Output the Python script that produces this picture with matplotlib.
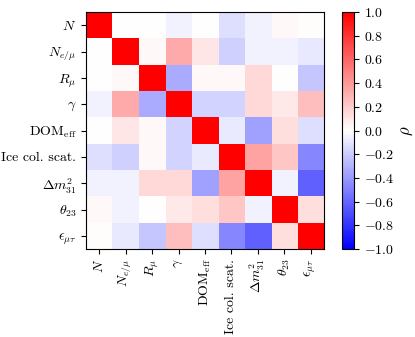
import numpy as np
import matplotlib
matplotlib.use("Agg")
import matplotlib.pyplot as plt

plt.rcParams['font.family'] = 'serif'
plt.rcParams['font.serif'] = ['cmr10']
plt.rcParams['mathtext.fontset'] = 'cm'
plt.rcParams['axes.formatter.use_mathtext'] = True
plt.rcParams['font.size'] = 10

labels = [r'$N$', r'$N_{e/\mu}$', r'$R_\mu$', r'$\gamma$', r'$\mathrm{DOM}_\mathrm{eff}$',
          'Ice col. scat.', r'$\Delta m^2_{31}$', r'$\theta_{23}$', r'$\epsilon_{\mu\tau}$']

# correlation rows (symmetric)
r_N     = [1.00, 0.00, 0.00, -0.05, 0.00, -0.13, -0.05, 0.03, 0.01]
r_Nemu  = [0.00, 1.00, 0.03, 0.33, 0.10, -0.18, -0.05, -0.05, -0.09]
r_Rmu   = [0.00, 0.03, 1.00, -0.33, 0.03, 0.03, 0.15, 0.00, -0.22]
r_gamma = [-0.05, 0.33, -0.33, 1.00, -0.17, -0.17, 0.15, 0.09, 0.25]
r_dom   = [0.00, 0.10, 0.03, -0.17, 1.00, -0.08, -0.37, 0.13, -0.13]
r_ice   = [-0.13, -0.18, 0.03, -0.17, -0.08, 1.00, 0.36, 0.22, -0.47]
r_dm    = [-0.05, -0.05, 0.15, 0.15, -0.37, 0.36, 1.00, -0.05, -0.62]
r_theta = [0.03, -0.05, 0.00, 0.09, 0.13, 0.22, -0.05, 1.00, 0.13]
r_eps   = [0.01, -0.09, -0.22, 0.25, -0.13, -0.47, -0.62, 0.13, 1.00]

corr = np.array([r_N, r_Nemu, r_Rmu, r_gamma, r_dom, r_ice, r_dm, r_theta, r_eps])

fig = plt.figure(figsize=(4.15, 3.37), dpi=100)
ax = fig.add_axes([86/415, 1-249/337, 238/415, 237/337])
cax = fig.add_axes([342/415, 1-249/337, 12/415, 237/337])

im = ax.imshow(corr, cmap='bwr', vmin=-1, vmax=1, aspect='auto')
ax.set_xticks(range(len(labels)))
ax.set_yticks(range(len(labels)))
ax.set_xticklabels(labels, rotation=90)
ax.set_yticklabels(labels)

cb = fig.colorbar(im, cax=cax)
cb.set_ticks(np.arange(-1, 1.01, 0.2))
cb.set_ticklabels([r'$%.1f$' % t if abs(t) > 1e-9 else r'$0.0$' for t in np.arange(-1, 1.01, 0.2)])
cb.set_label(r'$\rho$', fontsize=12)
cb.outline.set_linewidth(0.8)

fig.savefig('out.png', dpi=100)
